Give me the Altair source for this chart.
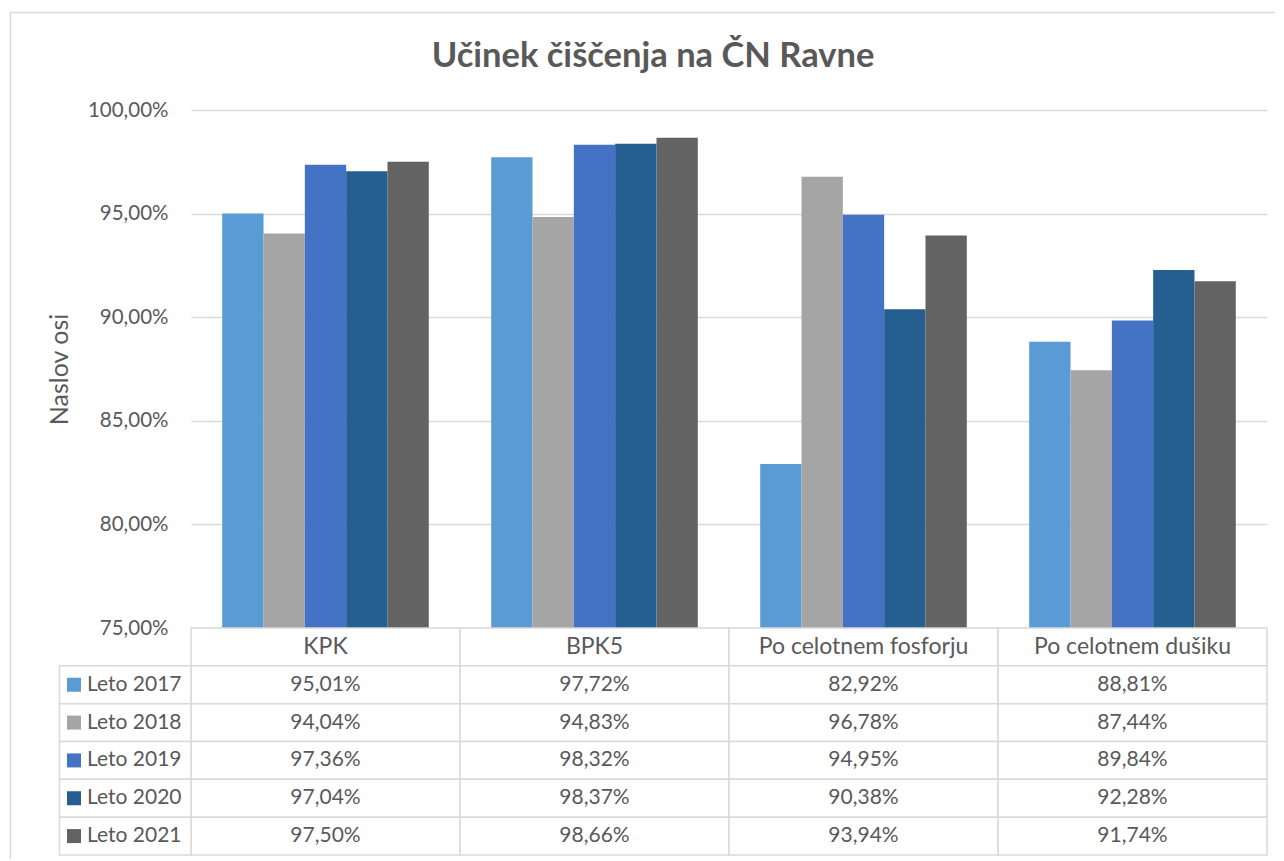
import altair as alt
import pandas as pd

# ---- data ----
categories = ["KPK", "BPK5", "Po celotnem fosforju", "Po celotnem dušiku"]
years = ["Leto 2017", "Leto 2018", "Leto 2019", "Leto 2020", "Leto 2021"]
v2017 = [95.01, 97.72, 82.92, 88.81]
v2018 = [94.04, 94.83, 96.78, 87.44]
v2019 = [97.36, 98.32, 94.95, 89.84]
v2020 = [97.04, 98.37, 90.38, 92.28]
v2021 = [97.50, 98.66, 93.94, 91.74]
colors = ["#5B9BD5", "#A5A5A5", "#4472C4", "#255E91", "#636363"]
y_ticks = [0.75, 0.80, 0.85, 0.90, 0.95, 1.00]

title_text = "Učinek čiščenja na ČN Ravne"
y_title = "Naslov osi"

series = [v2017, v2018, v2019, v2020, v2021]
rows = []
for yr, vals in zip(years, series):
    for cat, v in zip(categories, vals):
        rows.append({
            "category": cat,
            "year": yr,
            "value": v / 100.0,
            "label": f"{v:.2f}".replace(".", ",") + "%",
        })
df = pd.DataFrame(rows)

HDR = " "
row_domain = [HDR] + years
header_df = pd.DataFrame({"category": categories, "row": [HDR] * len(categories), "label": categories})
values_df = df.rename(columns={"year": "row"})[["category", "row", "label"]]
cells_df = pd.concat([header_df, values_df], ignore_index=True)
legend_df = pd.DataFrame({"row": years, "year": years})
one = pd.DataFrame({"a": [0]})
title_df = pd.DataFrame({"t": [title_text]})

FONT = "Lato"
TXT = "#595959"
GRID = "#D9D9D9"
W = 1076
H = 518
TH = 227

color_scale = alt.Scale(domain=years, range=colors)

# ---- bar chart ----
bars = alt.Chart(df).mark_bar().encode(
    x=alt.X("category:N", sort=categories, axis=None,
            scale=alt.Scale(domain=categories, paddingInner=0.232, paddingOuter=0.116)),
    xOffset=alt.XOffset("year:N", sort=years,
                        scale=alt.Scale(domain=years, paddingInner=0, paddingOuter=0)),
    y=alt.Y("value:Q",
            scale=alt.Scale(domain=[0.75, 1.0], zero=False, nice=False),
            axis=alt.Axis(
                values=y_ticks,
                labelExpr="replace(format(datum.value, '.2%'), '.', ',')",
                labelFont=FONT, labelFontSize=20.5, labelColor=TXT, labelPadding=23,
                ticks=False, domain=False,
                grid=True, gridColor=GRID, gridWidth=1.5,
                title=y_title, titleFont=FONT, titleFontSize=25, titleFontWeight="normal",
                titleColor=TXT, titleX=-132, titleY=259, titleBaseline="middle",
                titleAngle=270, titleAlign="center",
            )),
    y2=alt.datum(0.75),
    color=alt.Color("year:N", scale=color_scale, legend=None),
)

border_top = alt.Chart(one).mark_rule(color=GRID, strokeWidth=1.5).encode(
    x=alt.value(-180.5), x2=alt.value(1084), y=alt.value(-97.5))
border_left = alt.Chart(one).mark_rule(color=GRID, strokeWidth=1.5).encode(
    x=alt.value(-180.5), y=alt.value(-97.5), y2=alt.value(749))
title_mark = alt.Chart(title_df).mark_text(
    font=FONT, fontSize=34.5, fontWeight="bold", color=TXT, align="center", baseline="middle"
).encode(x=alt.value(462), y=alt.value(-53), text="t:N")

top = alt.layer(bars, border_top, border_left, title_mark).properties(width=W, height=H)

# ---- data table ----
xs = alt.X("category:N", sort=categories, axis=None,
           scale=alt.Scale(domain=categories, paddingInner=0, paddingOuter=0))
ys = alt.Y("row:N", sort=row_domain, axis=None,
           scale=alt.Scale(domain=row_domain, paddingInner=0, paddingOuter=0))

cell_rects = alt.Chart(cells_df).mark_rect(fill="white", stroke=GRID, strokeWidth=1.5).encode(x=xs, y=ys)
head_text = alt.Chart(header_df).mark_text(font=FONT, fontSize=23, color=TXT, align="center",
                                           baseline="middle").encode(x=xs, y=ys, text="label:N")
val_text = alt.Chart(values_df).mark_text(font=FONT, fontSize=21, color=TXT, align="center",
                                          baseline="middle").encode(x=xs, y=ys, text="label:N")
leg_rects = alt.Chart(legend_df).mark_rect(fill="white", stroke=GRID, strokeWidth=1.5).encode(
    x=alt.value(-131.5), x2=alt.value(0), y=ys)
leg_sq = alt.Chart(legend_df).mark_square(size=196, opacity=1).encode(
    x=alt.value(-117), y=ys, color=alt.Color("year:N", scale=color_scale, legend=None))
leg_text = alt.Chart(legend_df).mark_text(font=FONT, fontSize=21, color=TXT, align="left",
                                          baseline="middle").encode(
    x=alt.value(-104), y=ys, text="year:N")

table = alt.layer(cell_rects, head_text, val_text, leg_rects, leg_sq, leg_text).properties(width=W, height=TH)

chart = alt.vconcat(top, table, spacing=0, bounds="flush").resolve_scale(
    x="independent", y="independent", color="shared"
).properties(
    padding={"left": 1, "top": 3, "right": 0, "bottom": 0},
    background="white",
).configure_view(stroke="transparent", strokeWidth=0)

chart.save("out.html", embed_options={"renderer": "svg", "actions": False})
